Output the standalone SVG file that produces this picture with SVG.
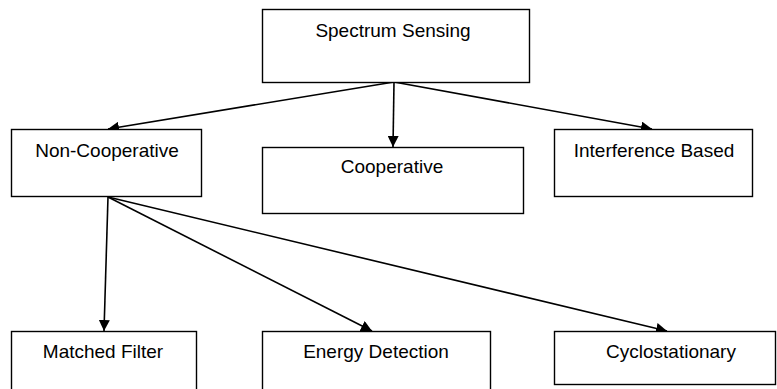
<svg xmlns="http://www.w3.org/2000/svg" width="777" height="389" viewBox="0 0 777 389">
  <style>
    .box { fill: #ffffff; stroke: #000000; stroke-width: 1.4; }
    .lbl { font-family: "Liberation Sans", Arial, sans-serif; font-size: 19px; fill: #000000; text-anchor: middle; }
    .edge { stroke: #000000; stroke-width: 1.6; fill: none; marker-end: url(#arrow); }
  </style>
  <defs>
    <marker id="arrow" viewBox="0 0 10 10" refX="10" refY="5" markerWidth="11" markerHeight="11" markerUnits="userSpaceOnUse" orient="auto">
      <path d="M0,0 L10,5 L0,10 z" fill="#000000"/>
    </marker>
  </defs>
  <rect width="777" height="389" fill="#ffffff"/>

  <g id="connectors">
    <line class="edge" x1="394" y1="82" x2="108" y2="129"/>
    <line class="edge" x1="394" y1="82" x2="393" y2="147"/>
    <line class="edge" x1="394" y1="82" x2="652" y2="129"/>
    <line class="edge" x1="108" y1="197" x2="104" y2="331"/>
    <line class="edge" x1="108" y1="197" x2="372" y2="331"/>
    <line class="edge" x1="108" y1="197" x2="667" y2="331"/>
  </g>

  <g id="spectrum-sensing">
    <rect class="box" x="262.5" y="9.5" width="267" height="73"/>
    <text class="lbl" x="393" y="37">Spectrum Sensing</text>
  </g>
  <g id="non-cooperative">
    <rect class="box" x="11.5" y="129.5" width="190" height="67"/>
    <text class="lbl" x="107" y="157">Non-Cooperative</text>
  </g>
  <g id="cooperative">
    <rect class="box" x="262.5" y="147.5" width="261" height="66"/>
    <text class="lbl" x="392" y="173">Cooperative</text>
  </g>
  <g id="interference-based">
    <rect class="box" x="554.5" y="129.5" width="198" height="67"/>
    <text class="lbl" x="654" y="157">Interference Based</text>
  </g>
  <g id="matched-filter">
    <rect class="box" x="11.5" y="331.5" width="185" height="62"/>
    <text class="lbl" x="103" y="358">Matched Filter</text>
  </g>
  <g id="energy-detection">
    <rect class="box" x="262.5" y="331.5" width="228" height="62"/>
    <text class="lbl" x="376" y="358">Energy Detection</text>
  </g>
  <g id="cyclostationary">
    <rect class="box" x="554.5" y="331.5" width="221" height="53"/>
    <text class="lbl" x="671" y="358">Cyclostationary</text>
  </g>
</svg>
